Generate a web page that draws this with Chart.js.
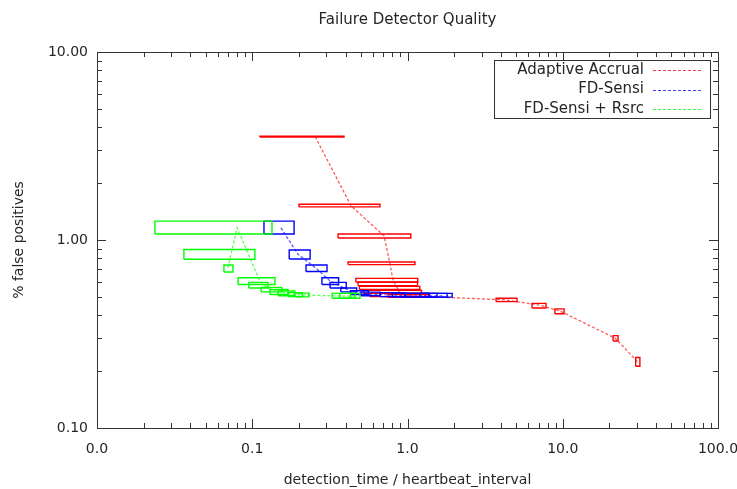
<!DOCTYPE html>
<html>
<head>
<meta charset="utf-8">
<title>Failure Detector Quality</title>
<script src="https://cdn.jsdelivr.net/npm/chart.js@4.4.1/dist/chart.umd.min.js"></script>
<style>
  html, body { margin: 0; padding: 0; background: #fff; overflow: hidden; }
</style>
</head>
<body>
<canvas id="fdChart" width="737" height="489"></canvas>
<script>
// ---- data: centre point + error box (min/max) per run ----

// Adaptive Accrual
const aaX    = [0.254, 0.433, 0.707, 0.77, 0.807, 0.83, 0.86, 0.88, 0.95, 1.1, 4.31, 7.03, 9.6, 21.7, 30.5];
const aaY    = [3.55, 1.52, 1.05, 0.75, 0.612, 0.583, 0.556, 0.53, 0.51, 0.503, 0.48, 0.451, 0.419, 0.301, 0.224];
const aaXMin = [0.112, 0.2, 0.357, 0.414, 0.465, 0.48, 0.49, 0.52, 0.57, 0.75, 3.72, 6.34, 8.9, 21.1, 29.5];
const aaXMax = [0.39, 0.665, 1.05, 1.117, 1.164, 1.16, 1.2, 1.23, 1.3, 1.39, 5.07, 7.8, 10.2, 22.7, 31.4];
const aaYMin = [3.53, 1.50, 1.025, 0.74, 0.598, 0.572, 0.546, 0.52, 0.5, 0.495, 0.47, 0.435, 0.405, 0.29, 0.213];
const aaYMax = [3.57, 1.55, 1.076, 0.764, 0.625, 0.595, 0.567, 0.54, 0.52, 0.512, 0.49, 0.46, 0.43, 0.31, 0.237];

// FD-Sensi
const fsX    = [0.153, 0.197, 0.258, 0.317, 0.357, 0.42, 0.49, 0.58, 0.8, 1.05, 1.2, 1.45, 1.7];
const fsY    = [1.16, 0.84, 0.707, 0.605, 0.576, 0.541, 0.525, 0.515, 0.51, 0.505, 0.505, 0.505, 0.505];
const fsXMin = [0.119, 0.173, 0.222, 0.281, 0.317, 0.372, 0.43, 0.5, 0.665, 0.8, 0.96, 1.2, 1.37];
const fsXMax = [0.186, 0.236, 0.303, 0.36, 0.403, 0.47, 0.56, 0.665, 0.96, 1.37, 1.55, 1.8, 1.94];
const fsYMin = [1.076, 0.792, 0.68, 0.58, 0.555, 0.53, 0.513, 0.505, 0.5, 0.497, 0.497, 0.497, 0.497];
const fsYMax = [1.26, 0.885, 0.736, 0.63, 0.595, 0.555, 0.537, 0.528, 0.525, 0.522, 0.52, 0.52, 0.52];

// FD-Sensi + Rsrc
const rsX    = [0.0698, 0.073, 0.0799, 0.112, 0.118, 0.13, 0.151, 0.167, 0.188, 0.21, 0.375, 0.41, 0.46];
const rsY    = [0.71, 0.842, 1.16, 0.605, 0.575, 0.55, 0.53, 0.52, 0.512, 0.51, 0.503, 0.503, 0.503];
const rsXMin = [0.0657, 0.0363, 0.0236, 0.081, 0.095, 0.114, 0.13, 0.1466, 0.17, 0.188, 0.327, 0.366, 0.43];
const rsXMax = [0.0751, 0.104, 0.134, 0.14, 0.126, 0.155, 0.17, 0.188, 0.21, 0.232, 0.43, 0.46, 0.494];
const rsYMin = [0.676, 0.79, 1.076, 0.58, 0.555, 0.53, 0.513, 0.505, 0.5, 0.498, 0.49, 0.49, 0.49];
const rsYMax = [0.736, 0.89, 1.26, 0.63, 0.595, 0.56, 0.545, 0.535, 0.525, 0.522, 0.52, 0.52, 0.52];

const seriesNames  = ['Adaptive Accrual', 'FD-Sensi', 'FD-Sensi + Rsrc'];
const seriesColors = ['255,0,0', '0,0,255', '0,255,0'];

const xTickValues = [0.01, 0.1, 1, 10, 100];
const xTickLabels = ['0.0', '0.1', '1.0', '10.0', '100.0'];
const yTickValues = [0.1, 1, 10];
const yTickLabels = ['0.10', '1.00', '10.00'];

const FONT = "'DejaVu Sans', sans-serif";
const INK = '#262626';

// green drawn on top, red at the bottom
const series = [
  { name: seriesNames[2], rgb: seriesColors[2], x: rsX, y: rsY, x0: rsXMin, x1: rsXMax, y0: rsYMin, y1: rsYMax },
  { name: seriesNames[1], rgb: seriesColors[1], x: fsX, y: fsY, x0: fsXMin, x1: fsXMax, y0: fsYMin, y1: fsYMax },
  { name: seriesNames[0], rgb: seriesColors[0], x: aaX, y: aaY, x0: aaXMin, x1: aaXMax, y0: aaYMin, y1: aaYMax }
];

const datasets = [];
series.forEach(s => {
  // dashed line through the centre points
  datasets.push({
    label: s.name,
    data: s.x.map((v, i) => ({ x: v, y: s.y[i] })),
    borderColor: 'rgba(' + s.rgb + ',0.65)',
    borderWidth: 1.3,
    borderDash: [3, 2],
    pointRadius: 0,
    tension: 0,
    fill: false
  });
  // one closed outline per error box
  s.x.forEach((_, i) => {
    datasets.push({
      label: s.name + ' box',
      data: [
        { x: s.x0[i], y: s.y0[i] }, { x: s.x1[i], y: s.y0[i] },
        { x: s.x1[i], y: s.y1[i] }, { x: s.x0[i], y: s.y1[i] },
        { x: s.x0[i], y: s.y0[i] }
      ],
      borderColor: 'rgb(' + s.rgb + ')',
      borderWidth: 1.4,
      pointRadius: 0,
      tension: 0,
      fill: false
    });
  });
});

// all 1..9 x 10^n positions between min and max
function logTicks(min, max) {
  const out = [];
  for (let e = Math.round(Math.log10(min)); e < Math.round(Math.log10(max)); e++) {
    for (let k = 1; k < 10; k++) out.push({ v: k * Math.pow(10, e), major: k === 1 });
  }
  out.push({ v: max, major: true });
  return out;
}

// gnuplot style frame: border box, inward ticks on all four sides, boxed key
const framePlugin = {
  id: 'frame',
  afterDraw(chart) {
    const { ctx, chartArea: a, scales: { x, y } } = chart;
    ctx.save();
    ctx.strokeStyle = '#333';
    ctx.lineWidth = 1;
    ctx.beginPath();
    logTicks(x.min, x.max).forEach(t => {
      const px = Math.round(x.getPixelForValue(t.v)) + 0.5;
      const len = t.major ? 9 : 5;
      ctx.moveTo(px, a.bottom); ctx.lineTo(px, a.bottom - len);
      ctx.moveTo(px, a.top); ctx.lineTo(px, a.top + len);
    });
    logTicks(y.min, y.max).forEach(t => {
      const py = Math.round(y.getPixelForValue(t.v)) + 0.5;
      const len = t.major ? 9 : 5;
      ctx.moveTo(a.left, py); ctx.lineTo(a.left + len, py);
      ctx.moveTo(a.right, py); ctx.lineTo(a.right - len, py);
    });
    ctx.stroke();
    ctx.strokeRect(Math.round(a.left) + 0.5, Math.round(a.top) + 0.5,
                   Math.round(a.right - a.left), Math.round(a.bottom - a.top));

    // key
    const kRight = Math.round(a.right) - 8, kTop = Math.round(a.top) + 8;
    ctx.strokeRect(kRight - 216 + 0.5, kTop + 0.5, 216, 58);
    ctx.font = '15px ' + FONT;
    ctx.textAlign = 'right';
    ctx.textBaseline = 'middle';
    seriesNames.forEach((name, i) => {
      const ry = kTop + 10 + i * 19.5;
      ctx.fillStyle = INK;
      ctx.fillText(name, kRight - 66, ry);
      ctx.strokeStyle = 'rgba(' + seriesColors[i] + ',0.75)';
      ctx.setLineDash([3, 2]);
      ctx.beginPath();
      ctx.moveTo(kRight - 57, Math.round(ry) + 0.5);
      ctx.lineTo(kRight - 9, Math.round(ry) + 0.5);
      ctx.stroke();
      ctx.setLineDash([]);
    });
    ctx.restore();
  }
};

new Chart(document.getElementById('fdChart'), {
  type: 'line',
  data: { datasets: datasets },
  options: {
    responsive: false,
    animation: false,
    events: [],
    layout: { padding: { left: 0, right: 19, top: 0, bottom: 0 } },
    plugins: {
      legend: { display: false },
      tooltip: { enabled: false },
      title: {
        display: true,
        text: 'Failure Detector Quality',
        fullSize: false,
        color: INK,
        font: { family: FONT, size: 15, weight: 'normal' },
        padding: { top: 11, bottom: 23 }
      }
    },
    scales: {
      x: {
        type: 'logarithmic',
        position: 'bottom',
        min: 0.01,
        max: 100,
        grid: { display: false, drawTicks: false },
        border: { display: false },
        afterBuildTicks: s => { s.ticks = xTickValues.map(v => ({ value: v })); },
        afterFit: s => { s.height = 61; s.paddingLeft = 0; s.paddingRight = 0; },
        ticks: {
          autoSkip: false,
          maxRotation: 0,
          padding: 13,
          color: INK,
          font: { family: FONT, size: 14 },
          callback: (v, i) => xTickLabels[i]
        },
        title: {
          display: true,
          text: 'detection_time / heartbeat_interval',
          color: INK,
          font: { family: FONT, size: 14 },
          padding: { top: 0, bottom: 0 }
        }
      },
      y: {
        type: 'logarithmic',
        position: 'left',
        min: 0.1,
        max: 10,
        grid: { display: false, drawTicks: false },
        border: { display: false },
        afterBuildTicks: s => { s.ticks = yTickValues.map(v => ({ value: v })); },
        afterFit: s => { s.width = 97; s.paddingTop = 0; s.paddingBottom = 0; },
        ticks: {
          autoSkip: false,
          padding: 9,
          color: INK,
          font: { family: FONT, size: 14 },
          callback: (v, i) => yTickLabels[i]
        },
        title: {
          display: true,
          text: '% false positives',
          color: INK,
          font: { family: FONT, size: 14 },
          padding: { top: 11, bottom: 0 }
        }
      }
    }
  },
  plugins: [framePlugin]
});
</script>
</body>
</html>
